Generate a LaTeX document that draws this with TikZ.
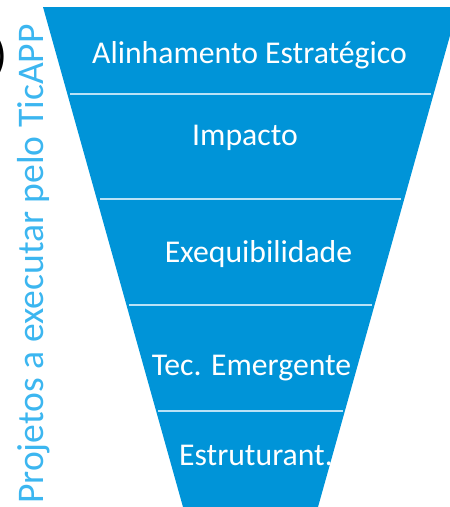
\documentclass[tikz,border=0pt]{standalone}
\usepackage{fontspec}
\setmainfont{Carlito}
\definecolor{funnelblue}{RGB}{0,148,216}
\definecolor{sidetext}{RGB}{60,182,240}
\definecolor{sepline}{RGB}{185,226,246}
\begin{document}
\begin{tikzpicture}[x=1pt,y=-1pt,
  lbl/.style={anchor=base,inner sep=0pt,text=white,font=\fontsize{31.7}{34}\selectfont},
  sep/.style={draw=sepline,line width=1.3pt}]
\useasboundingbox (0,0) rectangle (450,507);
\clip (0,0) rectangle (450,507);
\fill[funnelblue] (43,7) -- (458,7) -- (318,507) -- (183,507) -- cycle;
\draw[sep] (70,94) -- (431,94);
\draw[sep] (100,199) -- (401,199);
\draw[sep] (129,305) -- (372,305);
\draw[sep] (158,411) -- (343,411);
\node[lbl] (a) at (249.5,63) {Alinhamento Estratégico};
\node[lbl] (b) at (245,145) {Impacto};
\node[lbl] (c) at (258.5,262) {Exequibilidade};
\node[lbl] (d) at (251.5,375) {Tec. Emergente};
\node[lbl] (e) at (256,465) {Estruturant.};
\node[anchor=base west,inner sep=0pt,rotate=90,text=sidetext,
  font=\fontsize{37.6}{40}\selectfont] (side) at (43,504) {Projetos a executar pelo TicAPP};
\node[anchor=east,inner sep=0pt,font=\fontsize{46}{50}\selectfont] (paren) at (8,57) {)};
\end{tikzpicture}
\end{document}
